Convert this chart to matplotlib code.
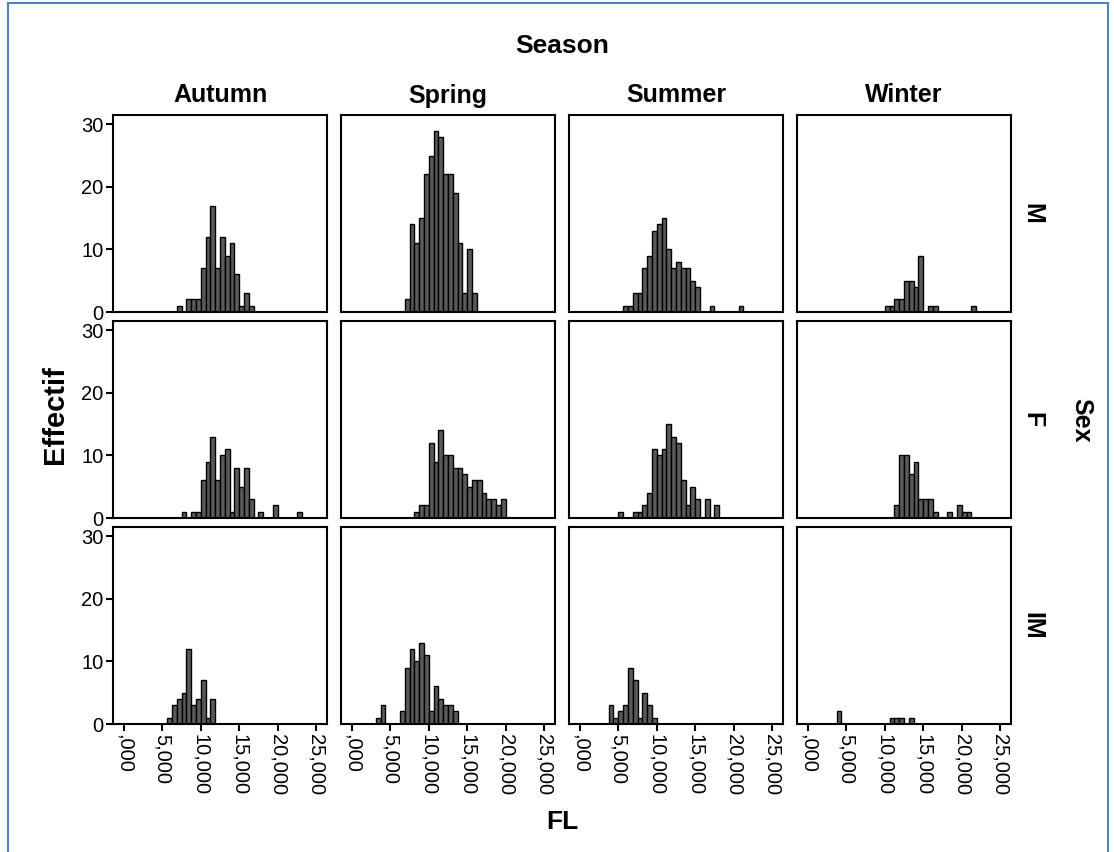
import matplotlib.pyplot as plt
from matplotlib.ticker import FuncFormatter
from matplotlib.patches import Rectangle
import numpy as np

plt.rcParams["font.family"] = ["Liberation Sans", "DejaVu Sans"]

seasons = ["Autumn", "Spring", "Summer", "Winter"]
sexes = ["M", "F", "IM"]

# histogram bins are 0,625 wide on a common grid
bin_width = 0.625

# first bin left edge and counts per bin, one pair per panel
autumn_m_start = 6.875
autumn_m = [1, 0, 2, 2, 2, 7, 12, 17, 7, 12, 9, 11, 6, 1, 3, 1]
autumn_f_start = 7.5
autumn_f = [1, 0, 1, 1, 6, 9, 13, 6, 10, 11, 1, 8, 5, 8, 3, 0, 1, 0, 0, 2, 0, 0, 0, 0, 1]
autumn_im_start = 5.625
autumn_im = [1, 3, 4, 5, 12, 3, 4, 7, 1, 4]

spring_m_start = 6.875
spring_m = [2, 14, 11, 15, 22, 25, 29, 28, 22, 22, 19, 11, 3, 10, 3]
spring_f_start = 8.125
spring_f = [1, 2, 2, 12, 9, 14, 10, 10, 8, 8, 7, 5, 6, 6, 4, 3, 3, 2, 3]
spring_im_start = 3.125
spring_im = [1, 3, 0, 0, 0, 2, 9, 12, 10, 13, 11, 2, 6, 4, 3, 3, 2]

summer_m_start = 5.625
summer_m = [1, 1, 3, 3, 7, 9, 13, 14, 15, 10, 7, 8, 7, 7, 5, 4, 0, 0, 1, 0, 0, 0, 0, 0, 1]
summer_f_start = 5.0
summer_f = [1, 0, 0, 1, 1, 2, 4, 11, 10, 11, 15, 13, 12, 6, 2, 5, 3, 0, 3, 0, 2]
summer_im_start = 3.75
summer_im = [3, 1, 2, 3, 9, 7, 1, 5, 3, 1]

winter_m_start = 10.0
winter_m = [1, 1, 2, 2, 5, 5, 4, 9, 0, 1, 1, 0, 0, 0, 0, 0, 0, 0, 1]
winter_f_start = 11.25
winter_f = [2, 10, 10, 7, 9, 3, 3, 3, 1, 0, 0, 1, 0, 2, 1, 1]
winter_im_start = 3.75
winter_im = [2, 0, 0, 0, 0, 0, 0, 0, 0, 0, 0, 1, 1, 1, 0, 1]

panels = {
    ("Autumn", "M"): (autumn_m_start, autumn_m),
    ("Autumn", "F"): (autumn_f_start, autumn_f),
    ("Autumn", "IM"): (autumn_im_start, autumn_im),
    ("Spring", "M"): (spring_m_start, spring_m),
    ("Spring", "F"): (spring_f_start, spring_f),
    ("Spring", "IM"): (spring_im_start, spring_im),
    ("Summer", "M"): (summer_m_start, summer_m),
    ("Summer", "F"): (summer_f_start, summer_f),
    ("Summer", "IM"): (summer_im_start, summer_im),
    ("Winter", "M"): (winter_m_start, winter_m),
    ("Winter", "F"): (winter_f_start, winter_f),
    ("Winter", "IM"): (winter_im_start, winter_im),
}

x_ticks = [0, 5, 10, 15, 20, 25]
y_ticks = [0, 10, 20, 30]


def fl_label(v, pos=None):
    s = f"{v:.3f}".replace(".", ",")
    if s.startswith("0,"):
        s = s[1:]
    return s


W, H = 1114, 852
fig = plt.figure(figsize=(W / 100, H / 100), dpi=100)

# blue frame round the output
fig.patches.append(Rectangle((8 / W, -0.02), (1108 - 8) / W, 1.02 - 3 / H,
                             transform=fig.transFigure, fill=False,
                             edgecolor="#4f81bd", linewidth=1.5))

col_left = [113, 341, 569, 797]
row_top = [115, 321, 527]
pw, ph = 214, 197

for r, sex in enumerate(sexes):
    for c, season in enumerate(seasons):
        ax = fig.add_axes([col_left[c] / W, 1 - (row_top[r] + ph) / H, pw / W, ph / H])
        start, counts = panels[(season, sex)]
        counts = np.array(counts)
        lefts = start + bin_width * np.arange(len(counts))
        keep = counts > 0
        ax.bar(lefts[keep], counts[keep], width=bin_width, align="edge",
               color="#5a5a5a", edgecolor="black", linewidth=1.0)

        ax.set_xlim(-1.4, 26.4)
        ax.set_ylim(0, 31.5)
        for sp in ax.spines.values():
            sp.set_linewidth(1.5)
        ax.tick_params(length=5, width=1.5, labelsize=14.5, pad=2)

        if c == 0:
            ax.set_yticks(y_ticks)
        else:
            ax.set_yticks([])
        if r == 2:
            ax.set_xticks(x_ticks)
            ax.xaxis.set_major_formatter(FuncFormatter(fl_label))
            for lab in ax.get_xticklabels():
                lab.set_rotation(270)
                lab.set_va("top")
                lab.set_ha("center")
        else:
            ax.set_xticks([])

        if r == 0:
            ax.set_title(season, fontsize=18, fontweight="bold", pad=9)
        if c == 3:
            ax.text(1.1, 0.5, sex, transform=ax.transAxes, rotation=270,
                    ha="center", va="center", fontsize=18, fontweight="bold")

fig.text(562 / W, 1 - 46 / H, "Season", ha="center", va="center",
         fontsize=19, fontweight="bold")
fig.text(562 / W, 1 - 822 / H, "FL", ha="center", va="center",
         fontsize=19, fontweight="bold")
fig.text(55 / W, 1 - 415 / H, "Effectif", ha="center", va="center",
         rotation=90, fontsize=21, fontweight="bold")
fig.text(1081 / W, 1 - 420 / H, "Sex", ha="center", va="center",
         rotation=270, fontsize=18, fontweight="bold")

fig.savefig("out.png", dpi=100)
